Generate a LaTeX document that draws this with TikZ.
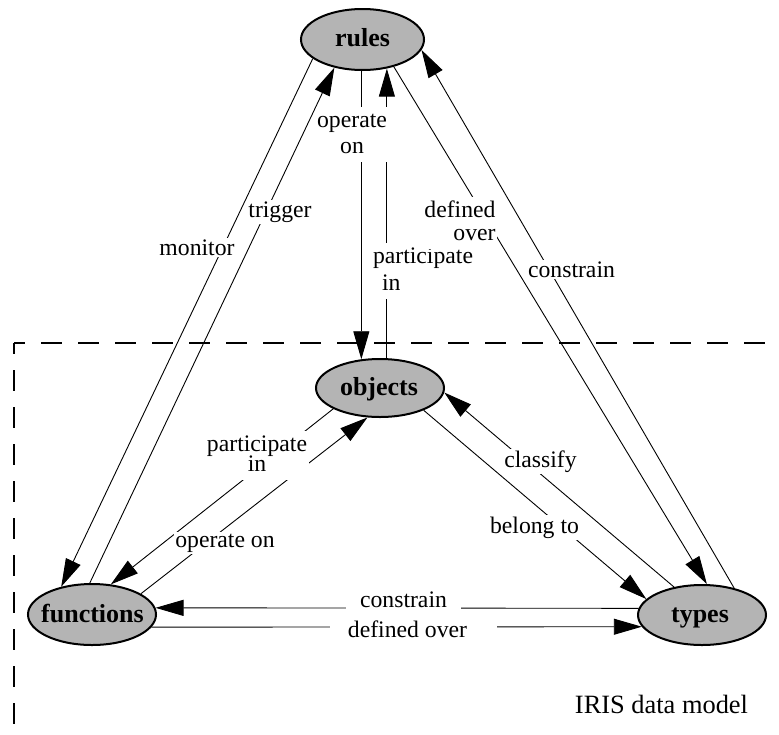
\documentclass[tikz,border=0pt]{standalone}
\usepackage{fontspec}
\setmainfont{Liberation Serif}
\usetikzlibrary{shapes.geometric,arrows.meta}
\definecolor{entityfill}{RGB}{180,180,180}
\begin{document}
\begin{tikzpicture}[x=1pt,y=-1pt,
  entity/.style={ellipse,draw=black,line width=2pt,fill=entityfill,inner sep=0pt},
  entitytext/.style={font=\fontsize{26}{30}\selectfont\bfseries,anchor=base,inner sep=0pt},
  rel/.style={line width=0.9pt,-{Triangle[length=28pt,width=16pt]}},
  lbl/.style={font=\fontsize{23.7}{26}\selectfont,fill=white,inner sep=1.5pt,anchor=base},
  frame/.style={line width=1.1pt,dash pattern=on 21pt off 16pt,dash phase=10pt}]
\useasboundingbox (0,0) rectangle (779,734);

% data model boundary
\draw[frame] (14,343) -- (779,343);
\draw[frame] (14,343) -- (14,734);

% entities
\node[entity,minimum width=123pt,minimum height=61pt] (rules) at (362.5,39.5) {};
\node[entity,minimum width=128pt,minimum height=58pt] (objects) at (380,388) {};
\node[entity,minimum width=128pt,minimum height=61pt] (functions) at (92,614.5) {};
\node[entity,minimum width=128pt,minimum height=60pt] (types) at (702,615) {};
\node[entitytext] (rules-t) at (362.5,46) {rules};
\node[entitytext] (objects-t) at (379,395) {objects};
\node[entitytext] (functions-t) at (92.5,622) {functions};
\node[entitytext] (types-t) at (700,622) {types};

% relationships
\draw[rel] (rules.201) -- (functions.138);                 % monitor
\draw[rel] (functions.94) -- (rules.225);                  % trigger
\draw[rel] (objects.123.5 |- rules.268) -- (objects.123.5); % operate on
\draw[rel] (objects.77) -- (objects.77 |- rules.309);      % participate in
\draw[rel] (rules.319) -- (types.81);                      % defined over
\draw[rel] (types.40) -- (rules.350);                      % constrain
\draw[rel] (objects.204) -- (functions.58);                % participate in
\draw[rel] (functions.23) -- (objects.247);                % operate on
\draw[rel] (types.135) -- (objects.356);                   % classify
\draw[rel] (objects.333) -- (types.164);                   % belong to
\draw[rel] (types.174) -- (functions.6);                   % constrain
\draw[rel] (functions.348) -- (types.191);                 % defined over

% relationship labels (white backing breaks the line underneath)
\node[lbl] (l-monitor) at (197,255) {monitor};
\node[lbl] (l-trigger) at (280,217) {trigger};
\node[lbl] (l-operate) at (352,127)
  {\begin{tabular}[t]{@{}c@{}}operate\\on\end{tabular}};
\node[lbl] (l-partic) at (423,263)
  {\begin{tabular}[t]{@{}l@{}}participate\\[1pt]\hspace*{9pt}in\end{tabular}};
\node[lbl] (l-defined) at (460,217)
  {\begin{tabular}[t]{@{}r@{}}defined\\[-3pt]over\end{tabular}};
\node[lbl] (l-constrain) at (571.5,277) {constrain};
\node[lbl] (l-partic2) at (257,451)
  {\begin{tabular}[t]{@{}c@{}}participate\\[-6pt]in\end{tabular}};
\node[lbl] (l-operate2) at (225,547) {operate on};
\node[lbl] (l-classify) at (540.5,467) {classify};
\node[lbl] (l-belong) at (534.5,533) {belong to};
\node[lbl,inner xsep=14pt] (l-constrain2) at (403.5,607) {constrain};
\node[lbl,minimum width=167pt] (l-defined2) at (413.5,637)
  {\makebox[0pt]{\hspace*{-12pt}defined over}};

\node[font=\fontsize{26.4}{30}\selectfont,anchor=base] (caption) at (661.5,713) {IRIS data model};
\end{tikzpicture}
\end{document}
